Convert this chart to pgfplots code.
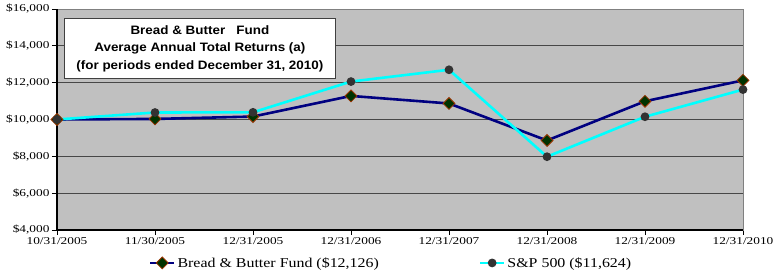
\documentclass[border=0pt]{standalone}
\usepackage{pgfplots}
\pgfplotsset{compat=1.18}
\usepackage{fontspec}
\setmainfont{Liberation Serif}
\newfontfamily\tickfont[FakeStretch=1.27]{Liberation Serif}
\newfontfamily\legfont[FakeStretch=1.18]{Liberation Serif}
\newfontfamily\titlefont[FakeStretch=1.1]{Liberation Sans}
\definecolor{bgray}{RGB}{192,192,192}
\definecolor{fundnavy}{RGB}{0,0,128}
\definecolor{mkgreen}{RGB}{0,51,0}
\definecolor{mkbrown}{RGB}{153,51,0}
\definecolor{spcyan}{RGB}{0,255,255}
\definecolor{mkgray}{RGB}{51,51,51}
\begin{document}
\begin{tikzpicture}
\begin{axis}[
  name=ax,
  scale only axis,
  width=686pt, height=221pt,
  xmin=0, xmax=7, ymin=4000, ymax=16000,
  xtick={0,...,7},
  xticklabels={10/31/2005,11/30/2005,12/31/2005,12/31/2006,12/31/2007,12/31/2008,12/31/2009,12/31/2010},
  ytick={4000,6000,8000,10000,12000,14000,16000},
  yticklabels={{\$4,000},{\$6,000},{\$8,000},{\$10,000},{\$12,000},{\$14,000},{\$16,000}},
  scaled ticks=false,
  tick align=outside,
  major tick length=5pt,
  tick style={black, line width=0.8pt},
  xtick pos=bottom, ytick pos=left,
  ticklabel style={font=\tickfont\fontsize{10.5}{12}\selectfont},
  xticklabel style={yshift=1pt},
  yticklabel style={xshift=1pt},
  axis background/.style={fill=bgray},
  axis line style={draw=black!50, line width=0.8pt},
  ymajorgrids,
  grid style={draw=black!72, line width=0.9pt},
  legend columns=2,
  legend style={draw=none, fill=none, at={(rel axis cs:0.487,-0.149)}, anchor=center,
    font=\legfont\fontsize{13.5}{15}\selectfont,
    /tikz/every even column/.append style={column sep=98pt}},
  legend image code/.code={
    \draw[mark repeat=2,mark phase=2,#1] plot coordinates {(0pt,0pt) (12pt,0pt) (24pt,0pt)};
  },
  clip=false,
]
\addplot[fundnavy, line width=2.6pt, mark=square*, mark size=4.2pt,
  mark options={fill=mkgreen, draw=mkbrown, line width=0.8pt, solid, rotate=45}]
  coordinates {(0,10000) (1,10030) (2,10160) (3,11280) (4,10870) (5,8860) (6,10990) (7,12126)};
\addlegendentry{Bread \& Butter Fund (\$12,126)}
\addplot[spcyan, line width=2.6pt, mark=*, mark size=3pt,
  mark options={fill=mkgray, draw=mkgray, solid}]
  coordinates {(0,10000) (1,10380) (2,10390) (3,12060) (4,12700) (5,7980) (6,10150) (7,11624)};
\addlegendentry{S\&P 500 (\$11,624)}
\draw[black, line width=1.3pt] (rel axis cs:0,0) -- (rel axis cs:0,1);
\draw[black, line width=1.1pt] (rel axis cs:0,0) -- (rel axis cs:1,0);
\node[draw=black!75, line width=0.8pt, fill=white, anchor=north west,
  minimum width=271pt, minimum height=60pt, inner sep=0pt,
  align=center, font=\titlefont\bfseries\fontsize{12.2}{17.5}\selectfont]
  at (rel axis cs:0.0102,0.959)
  {Bread \& Butter\ \ \ Fund\\Average Annual Total Returns (a)\\(for periods ended December 31, 2010)};
\end{axis}
\path ([xshift=-57pt,yshift=-45pt]ax.south west) rectangle ([xshift=35pt,yshift=9pt]ax.north east);
\end{tikzpicture}
\end{document}
